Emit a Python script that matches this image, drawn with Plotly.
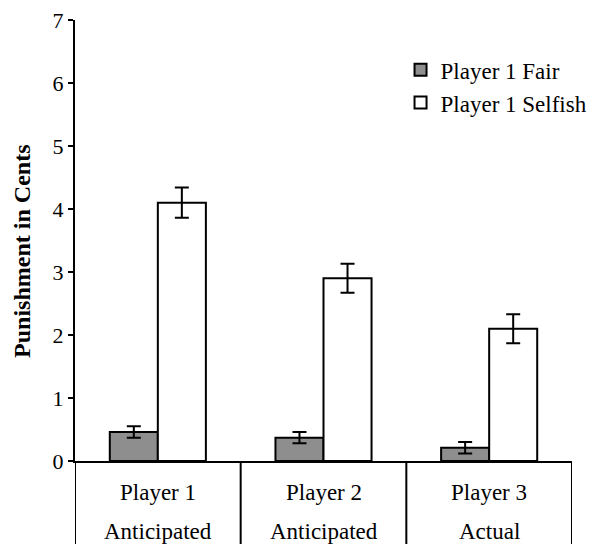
import plotly.graph_objects as go

categories = ["Player 1", "Player 2", "Player 3"]
conditions = ["Anticipated", "Anticipated", "Actual"]
fair_values = [0.46, 0.37, 0.21]
fair_errors = [0.09, 0.09, 0.09]
selfish_values = [4.10, 2.90, 2.10]
selfish_errors = [0.24, 0.23, 0.23]
y_ticks = [0, 1, 2, 3, 4, 5, 6, 7]
y_title = "Punishment in Cents"

FONT = "Liberation Serif, Times New Roman, serif"

fig = go.Figure()
fig.add_trace(go.Bar(
    name="Player 1 Fair", x=categories, y=fair_values,
    marker=dict(color="#8e8e8e", line=dict(color="black", width=2)),
    error_y=dict(type="data", array=fair_errors, color="black", thickness=2, width=7),
))
fig.add_trace(go.Bar(
    name="Player 1 Selfish", x=categories, y=selfish_values,
    marker=dict(color="white", line=dict(color="black", width=2)),
    error_y=dict(type="data", array=selfish_errors, color="black", thickness=2, width=7),
))

# divider lines of the category table below the axis
n = len(categories)
for i in range(n + 1):
    fig.add_shape(type="line", xref="x", yref="paper",
                  x0=i - 0.5, x1=i - 0.5, y0=0, y1=-0.25,
                  line=dict(color="black", width=2))

for i, (c, cond) in enumerate(zip(categories, conditions)):
    fig.add_annotation(x=c, xref="x", yref="paper", y=-0.0703, yanchor="middle",
                       text=c, showarrow=False, font=dict(family=FONT, size=23, color="black"))
    fig.add_annotation(x=c, xref="x", yref="paper", y=-0.16, yanchor="middle",
                       text=cond, showarrow=False, font=dict(family=FONT, size=23, color="black"))

# y-axis title
fig.add_annotation(x=-0.107, y=0.476, xref="paper", yref="paper", textangle=-90,
                   xanchor="center", yanchor="middle", showarrow=False,
                   text="<b>" + y_title + "</b>", font=dict(family=FONT, size=24, color="black"))

fig.update_layout(
    width=590, height=544,
    margin=dict(l=75, r=18, t=20, b=83, autoexpand=False),
    paper_bgcolor="white", plot_bgcolor="white",
    barmode="group", bargap=0.42, bargroupgap=0,
    font=dict(family=FONT, size=22, color="black"),
    showlegend=True,
    legend=dict(x=0.655, y=0.936, xanchor="left", yanchor="top",
                bgcolor="rgba(0,0,0,0)", font=dict(family=FONT, size=23, color="black"),
                tracegroupgap=0, itemwidth=30),
    xaxis=dict(showticklabels=False, ticks="", showline=True, linecolor="black",
               linewidth=2, showgrid=False, zeroline=False, range=[-0.5, 2.5]),
    yaxis=dict(range=[0, 7], tickvals=y_ticks, ticks="outside", ticklen=5, tickwidth=2,
               tickcolor="black", showline=True, linecolor="black", linewidth=2,
               showgrid=False, zeroline=False, tickfont=dict(family=FONT, size=22),
               automargin=False, ticklabeloverflow="allow"),
)

fig.write_html("out.html", config={"displayModeBar": False},
               post_script="document.body.style.margin='0';document.body.style.overflow='hidden';")
